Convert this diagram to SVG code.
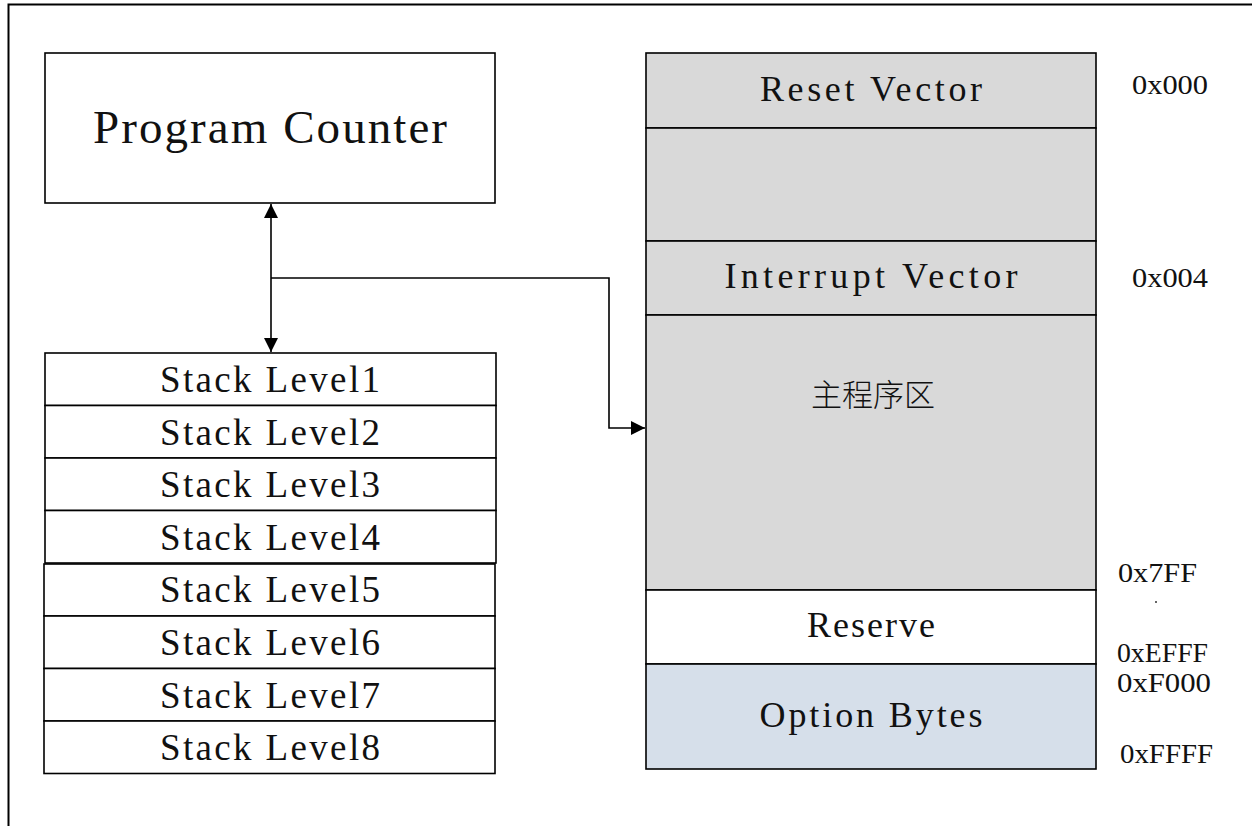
<svg xmlns="http://www.w3.org/2000/svg" width="1252" height="826" viewBox="0 0 1252 826">
<style>
.box{fill:#fff;stroke:#000;stroke-width:1.6}
.gray{fill:#d9d9d9;stroke:#000;stroke-width:1.6}
.blue{fill:#d6dfea;stroke:#000;stroke-width:1.6}
.mono{font-family:"Liberation Serif","DejaVu Serif",serif;fill:#111;text-anchor:middle}
.addr{font-family:"Liberation Serif","DejaVu Serif",serif;font-size:28px;fill:#111}
.cjk{font-family:"Noto Sans CJK SC","Noto Sans CJK JP",sans-serif;font-size:31px;font-weight:300;fill:#111;text-anchor:middle}
.conn{fill:none;stroke:#000;stroke-width:1.6}
</style>
<defs>
<marker id="ah" viewBox="0 0 14 14" refX="14" refY="7" markerWidth="14" markerHeight="14" markerUnits="userSpaceOnUse" orient="auto-start-reverse">
<path d="M0,0 L14,7 L0,14 z" fill="#000"/>
</marker>
</defs>
<rect width="1252" height="826" fill="#fff"/>
<path d="M8.5,826 L8.5,4.5 L1252,4.5" fill="none" stroke="#000" stroke-width="2"/>

<g id="program-counter">
<rect class="box" x="45" y="53" width="450" height="150"/>
<text class="mono" x="270" y="143" font-size="47" textLength="354" lengthAdjust="spacing">Program Counter</text>
</g>

<g id="stack">
<g id="stack1"><rect class="box" x="45" y="353" width="451" height="52.5"/><text class="mono" x="270" y="392" font-size="37" textLength="220" lengthAdjust="spacing">Stack Level1</text></g>
<g id="stack2"><rect class="box" x="45" y="405.5" width="451" height="52.5"/><text class="mono" x="270" y="444.5" font-size="37" textLength="220" lengthAdjust="spacing">Stack Level2</text></g>
<g id="stack3"><rect class="box" x="45" y="458" width="451" height="52.5"/><text class="mono" x="270" y="497" font-size="37" textLength="220" lengthAdjust="spacing">Stack Level3</text></g>
<g id="stack4"><rect class="box" x="45" y="510.5" width="451" height="52.5"/><text class="mono" x="270" y="549.5" font-size="37" textLength="220" lengthAdjust="spacing">Stack Level4</text></g>
<g id="stack5"><rect class="box" x="44" y="564" width="451" height="52"/><text class="mono" x="270" y="602" font-size="37" textLength="220" lengthAdjust="spacing">Stack Level5</text></g>
<g id="stack6"><rect class="box" x="44" y="616" width="451" height="52.5"/><text class="mono" x="270" y="655" font-size="37" textLength="220" lengthAdjust="spacing">Stack Level6</text></g>
<g id="stack7"><rect class="box" x="44" y="668.5" width="451" height="52.5"/><text class="mono" x="270" y="707.5" font-size="37" textLength="220" lengthAdjust="spacing">Stack Level7</text></g>
<g id="stack8"><rect class="box" x="44" y="721" width="451" height="52.5"/><text class="mono" x="270" y="760" font-size="37" textLength="220" lengthAdjust="spacing">Stack Level8</text></g>
</g>

<g id="memory">
<g id="reset-vector"><rect class="gray" x="646" y="53" width="450" height="75"/><text class="mono" x="871" y="101" font-size="36" textLength="222" lengthAdjust="spacing">Reset Vector</text></g>
<g id="gap"><rect class="gray" x="646" y="128" width="450" height="113"/></g>
<g id="interrupt-vector"><rect class="gray" x="646" y="241" width="450" height="74"/><text class="mono" x="871" y="288" font-size="36" textLength="293" lengthAdjust="spacing">Interrupt Vector</text></g>
<g id="main-program"><rect class="gray" x="646" y="315" width="450" height="275"/><text class="cjk" x="873" y="406">主程序区</text></g>
<g id="reserve"><rect class="box" x="646" y="590" width="450" height="74"/><text class="mono" x="871" y="637" font-size="36" textLength="128" lengthAdjust="spacing">Reserve</text></g>
<g id="option-bytes"><rect class="blue" x="646" y="664" width="450" height="105"/><text class="mono" x="871" y="727" font-size="36" textLength="223" lengthAdjust="spacing">Option Bytes</text></g>
</g>

<g id="addresses">
<text class="addr" x="1132" y="94" textLength="76" lengthAdjust="spacingAndGlyphs">0x000</text>
<text class="addr" x="1132" y="287" textLength="76" lengthAdjust="spacingAndGlyphs">0x004</text>
<text class="addr" x="1118" y="582" textLength="79" lengthAdjust="spacingAndGlyphs">0x7FF</text>
<circle cx="1156" cy="602" r="1" fill="#333"/>
<text class="addr" x="1117" y="662" textLength="91" lengthAdjust="spacingAndGlyphs">0xEFFF</text>
<text class="addr" x="1117" y="692" textLength="94" lengthAdjust="spacingAndGlyphs">0xF000</text>
<text class="addr" x="1120" y="763" textLength="93" lengthAdjust="spacingAndGlyphs">0xFFFF</text>
</g>

<g id="connectors">
<path class="conn" d="M271,204 L271,352" marker-start="url(#ah)" marker-end="url(#ah)"/>
<path class="conn" d="M271,278 L609,278 L609,428 L645,428" marker-end="url(#ah)"/>
</g>
</svg>
